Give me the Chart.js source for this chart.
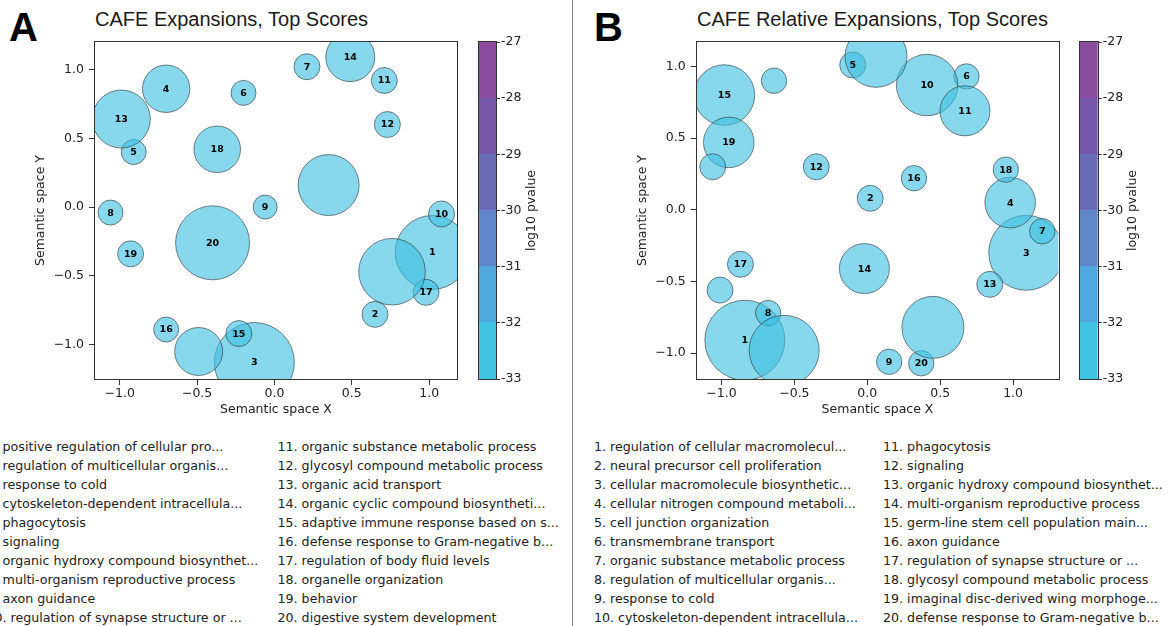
<!DOCTYPE html>
<html>
<head>
<meta charset="utf-8">
<script src="https://cdn.jsdelivr.net/npm/chart.js@4.4.1/dist/chart.umd.min.js"></script>
<style>
  html, body { margin: 0; padding: 0; background: #fff; }
  body { width: 1169px; height: 626px; position: relative; overflow: hidden; font-family: 'DejaVu Sans', sans-serif; }
  canvas { position: absolute; }
  .abs { position: absolute; white-space: nowrap; }
  .title { font-family: 'Liberation Sans', Arial, sans-serif; font-size: 20px; line-height: 20px; color: #1a1a1a; }
  .letter { font-family: 'Liberation Sans', Arial, sans-serif; font-weight: bold; font-size: 40px; line-height: 40px; color: #000; }
  .terms { font-size: 12.65px; line-height: 19px; color: #222; }
  .divider { left: 572px; top: 0; width: 1px; height: 626px; background: #888; }
</style>
</head>
<body>

<div class="abs letter" style="left:9px;top:7px;">A</div>
<div class="abs title" style="left:95px;top:8.8px;">CAFE Expansions, Top Scores</div>
<div class="abs letter" style="left:594px;top:7px;">B</div>
<div class="abs title" style="left:697px;top:8.8px;">CAFE Relative Expansions, Top Scores</div>
<div class="abs divider"></div>

<canvas id="bubA" width="470" height="430" style="left:0;top:0;"></canvas>
<canvas id="barA" width="100" height="430" style="left:470px;top:0;"></canvas>
<canvas id="bubB" width="490" height="430" style="left:580px;top:0;"></canvas>
<canvas id="barB" width="99" height="430" style="left:1070px;top:0;"></canvas>

<div id="listA1" class="abs terms" style="left:-13.5px;top:436.8px;"></div>
<div id="listA2" class="abs terms" style="left:277.5px;top:436.8px;"></div>
<div id="listB1" class="abs terms" style="left:594px;top:436.8px;"></div>
<div id="listB2" class="abs terms" style="left:883px;top:436.8px;"></div>

<script>
// ---- Panel A: CAFE expansions (numbered GO terms, semantic-space coordinates, bubble size)
const termsA = [
  "positive regulation of cellular pro...",
  "regulation of multicellular organis...",
  "response to cold",
  "cytoskeleton-dependent intracellula...",
  "phagocytosis",
  "signaling",
  "organic hydroxy compound biosynthet...",
  "multi-organism reproductive process",
  "axon guidance",
  "regulation of synapse structure or ...",
  "organic substance metabolic process",
  "glycosyl compound metabolic process",
  "organic acid transport",
  "organic cyclic compound biosyntheti...",
  "adaptive immune response based on s...",
  "defense response to Gram-negative b...",
  "regulation of body fluid levels",
  "organelle organization",
  "behavior",
  "digestive system development"
];
const xA = [1.02, 0.65, -0.13, -0.70, -0.91, -0.20, 0.21, -1.06, -0.06, 1.08,
            0.71, 0.73, -0.99, 0.49, -0.23, -0.70, 0.98, -0.37, -0.93, -0.40];
const yA = [-0.33, -0.78, -1.13, 0.86, 0.40, 0.83, 1.02, -0.04, 0.00, -0.05,
            0.92, 0.60, 0.64, 1.09, -0.92, -0.89, -0.62, 0.42, -0.34, -0.26];
const sizeA = [37, 13, 40, 23.7, 12.5, 12.5, 13, 12.5, 12, 13,
               13, 13, 29, 24.5, 13, 12.5, 13, 23.3, 13, 37];
// further terms plotted without a number
const xA_other = [0.35, -0.49, 0.76];
const yA_other = [0.16, -1.05, -0.47];
const sizeA_other = [30.5, 24, 33.3];

// ---- Panel B: CAFE relative expansions
const termsB = [
  "regulation of cellular macromolecul...",
  "neural precursor cell proliferation",
  "cellular macromolecule biosynthetic...",
  "cellular nitrogen compound metaboli...",
  "cell junction organization",
  "transmembrane transport",
  "organic substance metabolic process",
  "regulation of multicellular organis...",
  "response to cold",
  "cytoskeleton-dependent intracellula...",
  "phagocytosis",
  "signaling",
  "organic hydroxy compound biosynthet...",
  "multi-organism reproductive process",
  "germ-line stem cell population main...",
  "axon guidance",
  "regulation of synapse structure or ...",
  "glycosyl compound metabolic process",
  "imaginal disc-derived wing morphoge...",
  "defense response to Gram-negative b..."
];
const xB = [-0.84, 0.02, 1.09, 0.98, -0.10, 0.68, 1.20, -0.68, 0.15, 0.41,
            0.67, -0.35, 0.84, -0.02, -0.98, 0.32, -0.87, 0.95, -0.95, 0.37];
const yB = [-0.91, 0.08, -0.30, 0.05, 1.01, 0.93, -0.15, -0.72, -1.06, 0.87,
            0.69, 0.30, -0.52, -0.41, 0.80, 0.22, -0.38, 0.28, 0.47, -1.07];
const sizeB = [40, 13, 37.5, 25.3, 13, 12.7, 12.7, 12.7, 12.7, 30.7,
               25, 13, 13, 25, 30.3, 12.7, 13, 12.7, 25.3, 12.7];
const xB_other = [-1.06, -0.64, 0.06, -1.01, -0.57, 0.45];
const yB_other = [0.30, 0.90, 1.07, -0.56, -0.98, -0.82];
const sizeB_other = [13, 12.7, 31, 13, 35, 31];

// ---- axes and colour scale
const axisTicks = [-1.0, -0.5, 0.0, 0.5, 1.0];
const pvalueLevels = [-33, -32, -31, -30, -29, -28, -27];
const pvalueColors = ['#40c4e3', '#4ea9df', '#5f87c9', '#6a6bb7', '#7757aa', '#8a4c9f'];

const BUBBLE_FILL = 'rgba(62,192,224,0.62)';
const BUBBLE_EDGE = 'rgba(45,50,55,0.6)';
const INK = '#333';

Chart.defaults.font.family = "'DejaVu Sans', sans-serif";
Chart.defaults.font.size = 12.5;
Chart.defaults.color = '#222';

function fmtTick(v) {
  return Number(v).toFixed(1).replace('-', '\u2212');
}

// keep the plotting area exactly where the layout padding puts it
function noEdgePadding(s) {
  s.paddingLeft = 0; s.paddingRight = 0; s.paddingTop = 0; s.paddingBottom = 0;
}

// frame around the plotting area plus the term numbers inside the bubbles
const frameAndNumbers = {
  id: 'frameAndNumbers',
  afterDatasetsDraw(chart) {
    const {ctx, chartArea: a} = chart;
    ctx.save();
    ctx.strokeStyle = INK;
    ctx.lineWidth = 1;
    ctx.strokeRect(Math.round(a.left) - 0.5, Math.round(a.top) - 0.5,
                   Math.round(a.right - a.left) + 1, Math.round(a.bottom - a.top) + 1);
    ctx.fillStyle = '#000';
    ctx.font = "bold 9.5px 'DejaVu Sans', sans-serif";
    ctx.textAlign = 'center';
    ctx.textBaseline = 'middle';
    const meta = chart.getDatasetMeta(0);
    meta.data.forEach((el, i) => {
      const lab = chart.data.datasets[0].data[i].label;
      if (lab) ctx.fillText(lab, el.x, el.y + 0.5);
    });
    ctx.restore();
  }
};

function bubbleChart(id, c) {
  const numbered = c.x.map((x, i) => ({x: x, y: c.y[i], r: c.size[i], label: String(i + 1)}));
  const others = c.xo.map((x, i) => ({x: x, y: c.yo[i], r: c.sizeo[i], label: ''}));
  return new Chart(document.getElementById(id), {
    type: 'bubble',
    data: {
      datasets: [{
        data: numbered.concat(others),
        backgroundColor: BUBBLE_FILL,
        borderColor: BUBBLE_EDGE,
        borderWidth: 1,
        clip: 0
      }]
    },
    options: {
      responsive: false,
      animation: false,
      events: [],
      layout: {autoPadding: false, padding: {top: 42, right: c.padRight, left: 0, bottom: 0}},
      plugins: {legend: {display: false}, tooltip: {enabled: false}},
      scales: {
        x: {
          type: 'linear', min: c.xMin, max: c.xMax,
          afterFit: s => { s.height = 51; noEdgePadding(s); },
          afterBuildTicks: s => { s.ticks = axisTicks.map(v => ({value: v})); },
          ticks: {callback: fmtTick, padding: 1, maxRotation: 0, autoSkip: false, color: '#222'},
          grid: {drawOnChartArea: false, tickLength: 6, color: INK},
          border: {display: false},
          title: {display: true, text: 'Semantic space X', color: '#222', padding: {top: 0, bottom: 12.5}}
        },
        y: {
          type: 'linear', min: c.yMin, max: c.yMax,
          afterFit: s => { s.width = c.yAxisWidth; noEdgePadding(s); },
          afterBuildTicks: s => { s.ticks = axisTicks.map(v => ({value: v})); },
          ticks: {callback: fmtTick, padding: 5, autoSkip: false, color: '#222'},
          grid: {drawOnChartArea: false, tickLength: 6, color: INK},
          border: {display: false},
          title: {display: true, text: 'Semantic space Y', color: '#222', padding: {top: c.yTitlePad, bottom: 0}}
        }
      }
    },
    plugins: [frameAndNumbers]
  });
}

// colour bar: one floating bar per p-value band
function colorBar(id, c) {
  const cbDecor = {
    id: 'cbDecor',
    afterDraw(chart) {
      const {ctx, chartArea: a} = chart;
      ctx.save();
      ctx.strokeStyle = INK;
      ctx.lineWidth = 1;
      ctx.strokeRect(Math.round(a.left) - 0.5, Math.round(a.top) - 0.5,
                     Math.round(a.right - a.left) + 1, Math.round(a.bottom - a.top) + 1);
      ctx.translate(c.labelX, (a.top + a.bottom) / 2);
      ctx.rotate(-Math.PI / 2);
      ctx.fillStyle = '#222';
      ctx.font = "12.5px 'DejaVu Sans', sans-serif";
      ctx.textAlign = 'center';
      ctx.textBaseline = 'middle';
      ctx.fillText('log10 pvalue', 0, 0);
      ctx.restore();
    }
  };
  return new Chart(document.getElementById(id), {
    type: 'bar',
    data: {
      labels: [''],
      datasets: pvalueColors.map((col, i) => ({
        data: [[pvalueLevels[i], pvalueLevels[i + 1]]],
        backgroundColor: col,
        borderWidth: 0,
        barPercentage: 1,
        categoryPercentage: 1,
        grouped: false
      }))
    },
    options: {
      responsive: false,
      animation: false,
      events: [],
      layout: {autoPadding: false, padding: {top: 42, left: c.padLeft, right: 0, bottom: 51}},
      plugins: {legend: {display: false}, tooltip: {enabled: false}},
      scales: {
        x: {display: false},
        y: {
          position: 'right',
          min: pvalueLevels[0], max: pvalueLevels[pvalueLevels.length - 1],
          afterFit: s => { s.width = c.axisWidth; noEdgePadding(s); },
          afterBuildTicks: s => { s.ticks = pvalueLevels.map(v => ({value: v})); },
          ticks: {padding: 1, color: '#222', callback: v => String(v)},
          grid: {drawOnChartArea: false, tickLength: 4, color: INK},
          border: {display: false}
        }
      }
    },
    plugins: [cbDecor]
  });
}

bubbleChart('bubA', {
  x: xA, y: yA, size: sizeA, xo: xA_other, yo: yA_other, sizeo: sizeA_other,
  xMin: -1.16, xMax: 1.18, yMin: -1.25, yMax: 1.2,
  padRight: 13, yAxisWidth: 95, yTitlePad: 33.5
});
colorBar('barA', {padLeft: 9, axisWidth: 74, labelX: 62});

bubbleChart('bubB', {
  x: xB, y: yB, size: sizeB, xo: xB_other, yo: yB_other, sizeo: sizeB_other,
  xMin: -1.17, xMax: 1.31, yMin: -1.18, yMax: 1.17,
  padRight: 11.7, yAxisWidth: 116.7, yTitlePad: 55
});
colorBar('barB', {padLeft: 10, axisWidth: 71.3, labelX: 63});

// numbered term lists under each panel
function fillList(elId, terms, start) {
  document.getElementById(elId).innerHTML =
    terms.map((t, i) => `${start + i}. ${t}`).join('<br>');
}
fillList('listA1', termsA.slice(0, 10), 1);
fillList('listA2', termsA.slice(10), 11);
fillList('listB1', termsB.slice(0, 10), 1);
fillList('listB2', termsB.slice(10), 11);
</script>
</body>
</html>
